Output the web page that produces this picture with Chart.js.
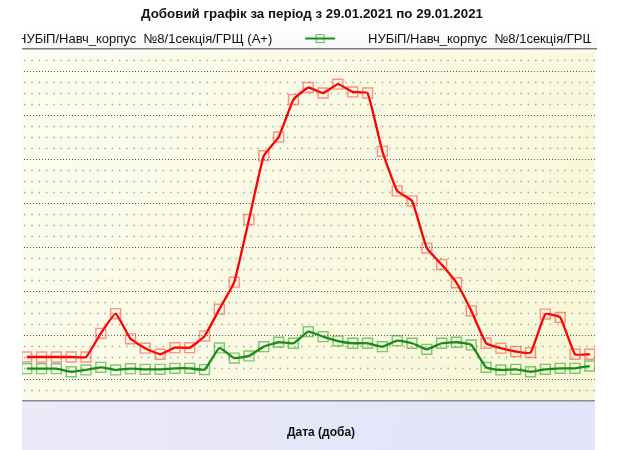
<!DOCTYPE html>
<html>
<head>
<meta charset="utf-8">
<script src="https://cdn.jsdelivr.net/npm/chart.js@4"></script>
<style>
  html, body { margin: 0; padding: 0; background: #ffffff; }
  #wrap { width: 621px; height: 450px; }
</style>
</head>
<body>
<div id="wrap"><canvas id="chart" width="621" height="450"></canvas></div>
<script>
// half-hour slots shown in the picture
const slots = [1, 2, 3, 4, 5, 6, 7, 8, 9, 10, 11, 12, 13, 14, 15, 16, 17, 18, 19, 20,
               21, 22, 23, 24, 25, 26, 27, 28, 29, 30, 31, 32, 33, 34, 35, 36, 37, 38, 39];

const seriesNames = [
  'НУБіП/Навч_корпус  №8/1секція/ГРЩ (А+)',
  'НУБіП/Навч_корпус  №8/1секція/ГРЩ (А-)'
];

const activeIn = [2.0, 2.0, 2.0, 2.0, 2.0, 4.15, 5.95, 3.65, 2.8, 2.25,
                  2.85, 2.85, 3.9, 6.35, 8.8, 14.5, 20.3, 22.0, 25.4, 26.5,
                  26.0, 26.8, 26.1, 26.0, 20.7, 17.1, 16.2, 11.9, 10.4, 8.75,
                  6.2, 3.25, 2.8, 2.5, 2.4, 5.9, 5.6, 2.25, 2.25];

const activeOut = [0.94, 0.94, 0.94, 0.66, 0.82, 1.06, 0.82, 0.94, 0.88, 0.88,
                   0.97, 0.97, 0.86, 2.82, 1.9, 2.1, 2.94, 3.34, 3.25, 4.3,
                   3.85, 3.45, 3.25, 3.25, 2.94, 3.48, 3.25, 2.7, 3.25, 3.34,
                   3.1, 1.06, 0.82, 0.88, 0.66, 0.88, 0.97, 0.97, 1.18];

const gridValues = [-1, 0, 1, 2, 3, 4, 5, 6, 7, 8, 9, 10, 11, 12, 13, 14, 15,
                    16, 17, 18, 19, 20, 21, 22, 23, 24, 25, 26, 27, 28, 29];

const titleText = 'Добовий графік за період з 29.01.2021 по 29.01.2021';
const xTitle = 'Дата (доба)';

function toPoints(values) {
  return values.map((v, i) => ({ x: slots[i], y: v }));
}

// backgrounds and dotted grid
const backdrop = {
  id: 'backdrop',
  beforeDraw(chart) {
    const ctx = chart.ctx;
    const a = chart.chartArea;
    ctx.save();
    ctx.fillStyle = '#ffffff';
    ctx.fillRect(0, 0, chart.width, chart.height);

    // legend strip
    const lg = ctx.createLinearGradient(0, 27, 0, 49);
    lg.addColorStop(0, '#ffffff');
    lg.addColorStop(1, '#f6f6f8');
    ctx.fillStyle = lg;
    ctx.fillRect(a.left, 27, a.right - a.left + 2, 22);
    ctx.fillStyle = '#7a7a7a';
    ctx.fillRect(a.left, 48, a.right - a.left + 2, 1.5);

    // plot background
    const pg = ctx.createLinearGradient(a.left, a.top, a.right, a.bottom);
    pg.addColorStop(0, '#fdfdf0');
    pg.addColorStop(1, '#f7f7d6');
    ctx.fillStyle = pg;
    ctx.fillRect(a.left, a.top, a.right - a.left, a.bottom - a.top);

    // bottom band
    const bg = ctx.createLinearGradient(a.left, a.bottom, a.right, chart.height);
    bg.addColorStop(0, '#e9e9f8');
    bg.addColorStop(1, '#e3e3fa');
    ctx.fillStyle = bg;
    ctx.fillRect(a.left, a.bottom, a.right - a.left, chart.height - a.bottom);
    ctx.fillStyle = '#8c8c8c';
    ctx.fillRect(a.left, a.bottom, a.right - a.left, 1.5);
    ctx.restore();
  },
  beforeDatasetsDraw(chart) {
    const ctx = chart.ctx;
    const a = chart.chartArea;
    const ys = chart.scales.y;
    ctx.save();
    gridValues.forEach(v => {
      const y = Math.round(ys.getPixelForValue(v)) + 0.5;
      if (v % 4 === 0) {
        ctx.strokeStyle = '#5a5a5a';
        ctx.lineWidth = 1;
        ctx.setLineDash([1, 2]);
      } else {
        ctx.strokeStyle = '#a8a8a0';
        ctx.lineWidth = 1.5;
        ctx.setLineDash([1.5, 5.8]);
      }
      ctx.beginPath();
      ctx.moveTo(a.left + 2, y);
      ctx.lineTo(a.right, y);
      ctx.stroke();
    });
    ctx.restore();
  }
};

// title, clipped legend and axis caption
const captions = {
  id: 'captions',
  afterDraw(chart) {
    const ctx = chart.ctx;
    const a = chart.chartArea;
    ctx.save();

    // title, squeezed like the original
    ctx.font = 'bold 13.5px "Liberation Sans", Arial, sans-serif';
    ctx.fillStyle = '#111111';
    ctx.textBaseline = 'middle';
    const tw = ctx.measureText(titleText).width;
    const sx = 342 / tw;
    ctx.save();
    ctx.translate(312, 14.5);
    ctx.scale(sx, 1);
    ctx.textAlign = 'center';
    ctx.fillText(titleText, 0, 0);
    ctx.restore();

    // legend (wider than the strip, so it is clipped on both sides)
    ctx.save();
    ctx.beginPath();
    ctx.rect(a.left, 27, 569, 21);
    ctx.clip();
    ctx.font = '13px "Liberation Sans", Arial, sans-serif';
    ctx.fillStyle = '#111111';
    ctx.textAlign = 'left';
    ctx.textBaseline = 'alphabetic';
    const x1 = 17;
    ctx.fillText(seriesNames[0], x1, 43);
    const end1 = x1 + ctx.measureText(seriesNames[0]).width;
    const x2 = 368;
    const mid = (end1 + x2) / 2;
    ctx.strokeStyle = '#1a8c1a';
    ctx.lineWidth = 2;
    ctx.beginPath();
    ctx.moveTo(mid - 15, 38.5);
    ctx.lineTo(mid + 15, 38.5);
    ctx.stroke();
    ctx.strokeStyle = 'rgba(0,150,0,0.55)';
    ctx.lineWidth = 1.2;
    ctx.strokeRect(mid - 4, 34.5, 8, 8);
    ctx.fillText(seriesNames[1], x2, 43);
    ctx.restore();

    // x-axis caption
    ctx.font = 'bold 12px "Liberation Sans", Arial, sans-serif';
    ctx.fillStyle = '#111111';
    ctx.textAlign = 'center';
    ctx.textBaseline = 'middle';
    ctx.fillText(xTitle, 321, 433);
    ctx.restore();
  }
};

new Chart(document.getElementById('chart').getContext('2d'), {
  type: 'line',
  data: {
    datasets: [
      {
        label: seriesNames[0],
        data: toPoints(activeIn),
        borderColor: '#ff0000',
        borderWidth: 2.3,
        tension: 0.12,
        pointStyle: 'rect',
        pointRadius: 7,
        pointBorderWidth: 1.4,
        pointBorderColor: 'rgba(255,40,40,0.5)',
        pointBackgroundColor: 'rgba(0,0,0,0)'
      },
      {
        label: seriesNames[1],
        data: toPoints(activeOut),
        borderColor: '#1a8c1a',
        borderWidth: 2.3,
        tension: 0.12,
        pointStyle: 'rect',
        pointRadius: 7,
        pointBorderWidth: 1.4,
        pointBorderColor: 'rgba(0,150,0,0.5)',
        pointBackgroundColor: 'rgba(0,0,0,0)'
      }
    ]
  },
  options: {
    responsive: false,
    animation: false,
    devicePixelRatio: 1,
    layout: { padding: { left: 22, right: 26, top: 51, bottom: 50 } },
    plugins: {
      legend: { display: false },
      title: { display: false },
      tooltip: { enabled: false }
    },
    scales: {
      x: { type: 'linear', min: 0.68, max: 39.35, display: false },
      y: { min: -1.91, max: 29.82, display: false }
    }
  },
  plugins: [backdrop, captions]
});
</script>
</body>
</html>
